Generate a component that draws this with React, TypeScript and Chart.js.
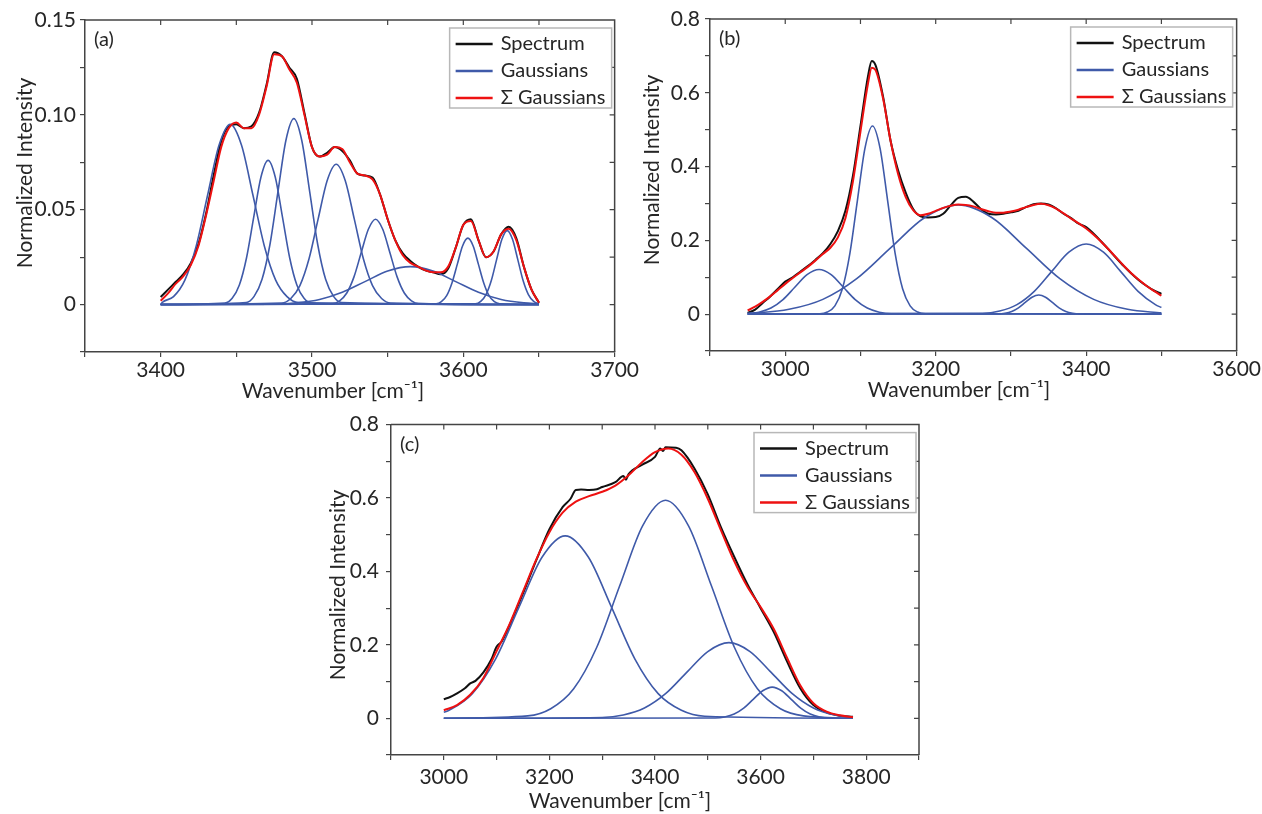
import React, { useEffect, useRef } from 'react';
import { Chart, registerables } from 'chart.js';

Chart.register(...registerables);

const FONT = "Lato, 'Noto Sans', 'DejaVu Sans', sans-serif";
const AXIS = '#444444';
const TEXT = '#262626';
const BLACK = '#111111';
const BLUE = '#3f5aa9';
const RED = '#ee1111';

type Pt = [number, number];

const legendLabels = ['Spectrum', 'Gaussians', 'Σ Gaussians'];
const xAxisTitle = 'Wavenumber [cm⁻¹]';
const yAxisTitle = 'Normalized Intensity';

// ---------------- panel (a) ----------------
const xA = [3400, 3405, 3410, 3415, 3420, 3425, 3430, 3435, 3440, 3445, 3450, 3455, 3460, 3465, 3470, 3475, 3480, 3485, 3490, 3495, 3500, 3505, 3510, 3515, 3520, 3525, 3530, 3535, 3540, 3545, 3550, 3555, 3560, 3565, 3570, 3575, 3580, 3585, 3590, 3595, 3600, 3605, 3610, 3615, 3620, 3625, 3630, 3635, 3640, 3645, 3650];
const spectrumA = [0.004, 0.008, 0.012, 0.016, 0.022, 0.032, 0.048, 0.068, 0.086, 0.094, 0.095, 0.093, 0.094, 0.101, 0.116, 0.133, 0.131, 0.125, 0.119, 0.101, 0.083, 0.078, 0.080, 0.083, 0.081, 0.076, 0.069, 0.068, 0.067, 0.058, 0.045, 0.034, 0.027, 0.023, 0.020, 0.018, 0.017, 0.016, 0.019, 0.030, 0.042, 0.045, 0.034, 0.025, 0.028, 0.037, 0.041, 0.035, 0.020, 0.008, 0.001];
const sumA = [0.002, 0.006, 0.011, 0.015, 0.021, 0.031, 0.047, 0.065, 0.083, 0.093, 0.096, 0.093, 0.093, 0.100, 0.115, 0.132, 0.131, 0.124, 0.117, 0.100, 0.083, 0.078, 0.079, 0.083, 0.082, 0.075, 0.069, 0.068, 0.066, 0.058, 0.045, 0.034, 0.026, 0.022, 0.020, 0.018, 0.017, 0.017, 0.020, 0.030, 0.042, 0.044, 0.034, 0.025, 0.028, 0.037, 0.040, 0.034, 0.020, 0.008, 0.001];
const gaussA1: Pt[] = [[3400, 0], [3401, 0.0011], [3408.5, 0.0042], [3416, 0.0129], [3423.5, 0.0309], [3431, 0.0576], [3438.5, 0.0838], [3446, 0.095], [3453.5, 0.0838], [3461, 0.0576], [3468.5, 0.0309], [3476, 0.0129], [3483.5, 0.0042], [3491, 0.0011], [3650, 0]];
const gaussA2: Pt[] = [[3400, 0], [3442.5, 0.0008], [3447.25, 0.0033], [3452, 0.0103], [3456.75, 0.0247], [3461.5, 0.0461], [3466.25, 0.0671], [3471, 0.076], [3475.75, 0.0671], [3480.5, 0.0461], [3485.25, 0.0247], [3490, 0.0103], [3494.75, 0.0033], [3499.5, 0.0008], [3650, 0]];
const gaussA3: Pt[] = [[3400, 0], [3456.5, 0.0011], [3461.75, 0.0043], [3467, 0.0133], [3472.25, 0.0318], [3477.5, 0.0594], [3482.75, 0.0865], [3488, 0.098], [3493.25, 0.0865], [3498.5, 0.0594], [3503.75, 0.0318], [3509, 0.0133], [3514.25, 0.0043], [3519.5, 0.0011], [3650, 0]];
const gaussA4: Pt[] = [[3400, 0], [3480, 0.0008], [3486, 0.0032], [3492, 0.0100], [3498, 0.0240], [3504, 0.0449], [3510, 0.0653], [3516, 0.074], [3522, 0.0653], [3528, 0.0449], [3534, 0.0240], [3540, 0.0100], [3546, 0.0032], [3552, 0.0008], [3650, 0]];
const gaussA5: Pt[] = [[3400, 0], [3513.5, 0.0005], [3518.25, 0.0020], [3523, 0.0061], [3527.75, 0.0146], [3532.5, 0.0273], [3537.25, 0.0397], [3542, 0.045], [3546.75, 0.0397], [3551.5, 0.0273], [3556.25, 0.0146], [3561, 0.0061], [3565.75, 0.0020], [3570.5, 0.0005], [3650, 0]];
const gaussA6: Pt[] = [[3400, 0], [3475, 0.0002], [3490, 0.0009], [3505, 0.0027], [3520, 0.0065], [3535, 0.0121], [3550, 0.0177], [3565, 0.020], [3580, 0.0177], [3595, 0.0121], [3610, 0.0065], [3625, 0.0027], [3640, 0.0009], [3650, 0.0004]];
const gaussA7: Pt[] = [[3400, 0], [3582, 0.0004], [3585.5, 0.0015], [3589, 0.0047], [3592.5, 0.0114], [3596, 0.0212], [3599.5, 0.0309], [3603, 0.035], [3606.5, 0.0309], [3610, 0.0212], [3613.5, 0.0114], [3617, 0.0047], [3620.5, 0.0015], [3624, 0.0004], [3650, 0]];
const gaussA8: Pt[] = [[3400, 0], [3608, 0.0004], [3611.5, 0.0017], [3615, 0.0053], [3618.5, 0.0127], [3622, 0.0237], [3625.5, 0.0344], [3629, 0.039], [3632.5, 0.0344], [3636, 0.0237], [3639.5, 0.0127], [3643, 0.0053], [3646.5, 0.0017], [3650, 0.0004]];

// ---------------- panel (b) ----------------
const xB = [2950, 2960, 2970, 2980, 2990, 3000, 3010, 3020, 3030, 3040, 3050, 3060, 3070, 3080, 3090, 3100, 3110, 3115, 3120, 3130, 3140, 3150, 3160, 3170, 3180, 3190, 3200, 3210, 3220, 3230, 3240, 3250, 3260, 3270, 3280, 3290, 3300, 3310, 3320, 3330, 3340, 3350, 3360, 3370, 3380, 3390, 3400, 3410, 3420, 3430, 3440, 3450, 3460, 3470, 3480, 3490, 3500];
const spectrumB = [0.003, 0.012, 0.030, 0.048, 0.068, 0.088, 0.100, 0.115, 0.130, 0.147, 0.165, 0.190, 0.225, 0.280, 0.375, 0.510, 0.645, 0.686, 0.675, 0.590, 0.470, 0.390, 0.330, 0.285, 0.265, 0.262, 0.263, 0.272, 0.295, 0.315, 0.318, 0.305, 0.285, 0.272, 0.270, 0.272, 0.276, 0.280, 0.290, 0.298, 0.300, 0.297, 0.287, 0.272, 0.260, 0.245, 0.236, 0.218, 0.197, 0.175, 0.152, 0.130, 0.110, 0.092, 0.077, 0.064, 0.055];
const sumB = [0.010, 0.020, 0.033, 0.048, 0.065, 0.082, 0.098, 0.113, 0.128, 0.145, 0.163, 0.180, 0.208, 0.260, 0.360, 0.495, 0.625, 0.668, 0.662, 0.585, 0.470, 0.380, 0.318, 0.282, 0.268, 0.272, 0.280, 0.288, 0.294, 0.297, 0.296, 0.292, 0.285, 0.279, 0.275, 0.275, 0.278, 0.283, 0.290, 0.296, 0.299, 0.295, 0.286, 0.273, 0.259, 0.246, 0.232, 0.215, 0.196, 0.175, 0.153, 0.131, 0.111, 0.093, 0.077, 0.063, 0.050];
const gaussB1: Pt[] = [[2950, 0.0015], [2965, 0.0053], [2981, 0.0164], [2997, 0.0393], [3013, 0.0734], [3029, 0.1068], [3045, 0.121], [3061, 0.1068], [3077, 0.0734], [3093, 0.0393], [3109, 0.0164], [3125, 0.0053], [3141, 0.0013], [3500, 0]];
const gaussB2: Pt[] = [[2950, 0], [3046, 0.0011], [3056, 0.0057], [3066, 0.0224], [3076, 0.0690], [3086, 0.1656], [3096, 0.3093], [3106, 0.4501], [3116, 0.51], [3126, 0.4501], [3136, 0.3093], [3146, 0.1656], [3156, 0.0690], [3166, 0.0224], [3176, 0.0057], [3186, 0.0011], [3500, 0]];
const gaussB3: Pt[] = [[2950, 0.0023], [2960, 0.0033], [3005, 0.0130], [3050, 0.0400], [3095, 0.0961], [3140, 0.1795], [3185, 0.2612], [3230, 0.296], [3275, 0.2612], [3320, 0.1795], [3365, 0.0961], [3410, 0.0400], [3455, 0.0130], [3500, 0.0033]];
const gaussB4: Pt[] = [[2950, 0], [3283, 0.0006], [3292, 0.0023], [3301, 0.0070], [3310, 0.0169], [3319, 0.0315], [3328, 0.0459], [3337, 0.052], [3346, 0.0459], [3355, 0.0315], [3364, 0.0169], [3373, 0.0070], [3382, 0.0023], [3391, 0.0006], [3500, 0]];
const gaussB5: Pt[] = [[2950, 0], [3262, 0.0021], [3285, 0.0083], [3308, 0.0257], [3331, 0.0617], [3354, 0.1152], [3377, 0.1677], [3400, 0.19], [3423, 0.1677], [3446, 0.1152], [3469, 0.0617], [3492, 0.0257], [3500, 0.0179]];

// ---------------- panel (c) ----------------
const xSpecC = [3000, 3012, 3025, 3040, 3050, 3060, 3075, 3090, 3100, 3110, 3125, 3150, 3175, 3200, 3225, 3240, 3250, 3260, 3275, 3290, 3300, 3325, 3340, 3345, 3350, 3375, 3400, 3410, 3415, 3420, 3440, 3450, 3475, 3500, 3525, 3550, 3575, 3600, 3625, 3650, 3675, 3700, 3725, 3750, 3775];
const spectrumC = [0.052, 0.058, 0.068, 0.082, 0.095, 0.102, 0.125, 0.160, 0.195, 0.210, 0.255, 0.340, 0.430, 0.515, 0.575, 0.598, 0.622, 0.623, 0.622, 0.624, 0.630, 0.643, 0.660, 0.650, 0.665, 0.690, 0.712, 0.735, 0.728, 0.738, 0.737, 0.730, 0.680, 0.610, 0.520, 0.440, 0.365, 0.300, 0.235, 0.155, 0.082, 0.036, 0.016, 0.007, 0.004];
const xSumC = [3000, 3025, 3050, 3075, 3100, 3125, 3150, 3175, 3200, 3225, 3250, 3275, 3300, 3325, 3350, 3375, 3400, 3425, 3450, 3475, 3500, 3525, 3550, 3575, 3600, 3625, 3650, 3675, 3700, 3725, 3750, 3775];
const sumC = [0.022, 0.036, 0.064, 0.110, 0.183, 0.258, 0.345, 0.432, 0.507, 0.560, 0.590, 0.605, 0.617, 0.634, 0.662, 0.697, 0.725, 0.735, 0.718, 0.670, 0.598, 0.512, 0.428, 0.358, 0.303, 0.243, 0.165, 0.090, 0.041, 0.018, 0.008, 0.003];
const gaussC1: Pt[] = [[3000, 0.0163], [3010, 0.0218], [3054, 0.0672], [3098, 0.1614], [3142, 0.3014], [3186, 0.4386], [3230, 0.497], [3274, 0.4386], [3318, 0.3014], [3362, 0.1614], [3406, 0.0672], [3450, 0.0218], [3494, 0.0055], [3775, 0]];
const gaussC2: Pt[] = [[3000, 0], [3159, 0.0066], [3202.5, 0.0261], [3246, 0.0804], [3289.5, 0.1929], [3333, 0.3603], [3376.5, 0.5242], [3420, 0.594], [3463.5, 0.5242], [3507, 0.3603], [3550.5, 0.1929], [3594, 0.0804], [3637.5, 0.0261], [3681, 0.0066], [3775, 0]];
const gaussC3: Pt[] = [[3000, 0], [3300, 0.0023], [3340, 0.0090], [3380, 0.0279], [3420, 0.0669], [3460, 0.1249], [3500, 0.1818], [3540, 0.206], [3580, 0.1818], [3620, 0.1249], [3660, 0.0669], [3700, 0.0279], [3740, 0.0090], [3775, 0.0028]];
const gaussC4: Pt[] = [[3000, 0], [3514, 0.0009], [3532, 0.0037], [3550, 0.0115], [3568, 0.0276], [3586, 0.0516], [3604, 0.0750], [3622, 0.085], [3640, 0.0750], [3658, 0.0516], [3676, 0.0276], [3694, 0.0115], [3712, 0.0037], [3730, 0.0009], [3775, 0]];

// ---------------- layout of the three panels ----------------
const panels = [
  {
    tag: '(a)', canvas: { left: 0, top: 0, w: 640, h: 410 }, area: { left: 85, right: 615, top: 20, bottom: 352 },
    xMin: 3350, xMax: 3700, xStep: 50, xEvery: 100, yMin: -0.025, yMax: 0.15, yStep: 0.025, yEvery: 0.05, yDec: 2,
    xPad: 1, yPad: 4, xTitleAt: [333, 398], yTitleAt: [25, 173], legendGap: 3, legendTop: 8,
    specX: xA, specY: spectrumA, sumX: xA, sumY: sumA,
    gauss: [gaussA1, gaussA2, gaussA3, gaussA4, gaussA5, gaussA6, gaussA7, gaussA8],
  },
  {
    tag: '(b)', canvas: { left: 630, top: 0, w: 632, h: 410 }, area: { left: 80, right: 608, top: 19, bottom: 351 },
    xMin: 2900, xMax: 3600, xStep: 100, xEvery: 200, yMin: -0.1, yMax: 0.8, yStep: 0.1, yEvery: 0.2, yDec: 1,
    xPad: 1, yPad: 5, xTitleAt: [329, 397], yTitleAt: [22, 170], legendGap: 4, legendTop: 8,
    specX: xB, specY: spectrumB, sumX: xB, sumY: sumB,
    gauss: [gaussB1, gaussB2, gaussB3, gaussB4, gaussB5],
  },
  {
    tag: '(c)', canvas: { left: 310, top: 405, w: 640, h: 409 }, area: { left: 81, right: 609, top: 18, bottom: 350 },
    xMin: 2900, xMax: 3900, xStep: 100, xEvery: 200, yMin: -0.1, yMax: 0.8, yStep: 0.1, yEvery: 0.2, yDec: 1,
    xPad: 5, yPad: 7, xTitleAt: [310, 403], yTitleAt: [28, 180], legendGap: 3, legendTop: 8,
    specX: xSpecC, specY: spectrumC, sumX: xSumC, sumY: sumC,
    gauss: [gaussC1, gaussC2, gaussC3, gaussC4],
  },
];

function makeFramePlugin(p: any) {
  return {
    id: 'frame',
    afterDraw(chart: any) {
      const { ctx, chartArea: a, scales } = chart;
      const xs = scales.x;
      const ys = scales.y;
      ctx.save();
      ctx.strokeStyle = AXIS;
      ctx.lineWidth = 1.5;
      ctx.beginPath();
      ctx.moveTo(a.left, a.top);
      ctx.lineTo(a.right, a.top);
      ctx.lineTo(a.right, a.bottom);
      ctx.stroke();

      ctx.lineWidth = 1.2;
      ctx.beginPath();
      xs.ticks.forEach((t: any) => {
        const px = xs.getPixelForValue(t.value);
        if (px <= a.left + 1 || px >= a.right - 1) return;
        ctx.moveTo(px, a.top);
        ctx.lineTo(px, a.top + 5);
      });
      ys.ticks.forEach((t: any) => {
        const py = ys.getPixelForValue(t.value);
        if (py <= a.top + 1 || py >= a.bottom - 1) return;
        ctx.moveTo(a.right, py);
        ctx.lineTo(a.right - 5, py);
      });
      ctx.stroke();

      // panel tag
      ctx.fillStyle = TEXT;
      ctx.font = `20px ${FONT}`;
      ctx.textAlign = 'left';
      ctx.textBaseline = 'middle';
      ctx.fillText(p.tag, a.left + 9, a.top + 20);

      // axis titles
      ctx.font = `21px ${FONT}`;
      ctx.textAlign = 'center';
      ctx.textBaseline = 'alphabetic';
      ctx.fillText(xAxisTitle, p.xTitleAt[0], p.xTitleAt[1]);
      ctx.save();
      ctx.translate(p.yTitleAt[0], p.yTitleAt[1]);
      ctx.rotate(-Math.PI / 2);
      ctx.textBaseline = 'middle';
      ctx.fillText(yAxisTitle, 0, 0);
      ctx.restore();

      // legend
      const bw = 162;
      const bh = 80;
      const bx = a.right - p.legendGap - bw;
      const by = a.top + p.legendTop;
      ctx.fillStyle = '#ffffff';
      ctx.fillRect(bx, by, bw, bh);
      ctx.strokeStyle = '#b8b8b8';
      ctx.lineWidth = 1.5;
      ctx.strokeRect(bx, by, bw, bh);
      const colors = [BLACK, BLUE, RED];
      legendLabels.forEach((txt, i) => {
        const y = by + 16 + i * 27;
        ctx.strokeStyle = colors[i];
        ctx.lineWidth = 2.5;
        ctx.beginPath();
        ctx.moveTo(bx + 6, y);
        ctx.lineTo(bx + 43, y);
        ctx.stroke();
        ctx.fillStyle = TEXT;
        ctx.font = `20px ${FONT}`;
        ctx.textAlign = 'left';
        ctx.textBaseline = 'middle';
        ctx.fillText(txt, bx + 51, y);
      });
      ctx.restore();
    },
  };
}

function buildConfig(p: any): any {
  const toPts = (xs: number[], ys: number[]) => xs.map((x, i) => ({ x, y: ys[i] }));
  const base = { pointRadius: 0, fill: false, cubicInterpolationMode: 'monotone' };
  const datasets = [
    { ...base, label: 'Σ Gaussians', data: toPts(p.sumX, p.sumY), borderColor: RED, borderWidth: 2, order: 0 },
    ...p.gauss.map((g: Pt[], i: number) => ({
      ...base, label: `Gaussian ${i + 1}`, data: g.map(([x, y]) => ({ x, y })), borderColor: BLUE, borderWidth: 1.6, order: 1,
    })),
    { ...base, label: 'Spectrum', data: toPts(p.specX, p.specY), borderColor: BLACK, borderWidth: 2, order: 2 },
  ];
  const tickFont = { family: FONT, size: 21 };
  return {
    type: 'line',
    data: { datasets },
    options: {
      animation: false,
      responsive: false,
      events: [],
      layout: { padding: { left: 0, top: p.area.top, right: p.canvas.w - p.area.right, bottom: 0 } },
      plugins: { legend: { display: false }, tooltip: { enabled: false } },
      scales: {
        x: {
          type: 'linear',
          min: p.xMin,
          max: p.xMax,
          afterFit: (s: any) => { s.height = p.canvas.h - p.area.bottom; },
          ticks: {
            stepSize: p.xStep, autoSkip: false, maxRotation: 0, padding: p.xPad, color: TEXT, font: tickFont,
            callback: (v: number) => (Math.abs(v % p.xEvery) < 1e-6 ? String(v) : ''),
          },
          grid: { drawOnChartArea: false, drawTicks: true, tickLength: 5, color: AXIS, lineWidth: 1.2 },
          border: { display: true, color: AXIS, width: 1.5 },
        },
        y: {
          type: 'linear',
          min: p.yMin,
          max: p.yMax,
          afterFit: (s: any) => { s.width = p.area.left; },
          ticks: {
            stepSize: p.yStep, autoSkip: false, padding: p.yPad, color: TEXT, font: tickFont,
            callback: (v: number) => {
              const n = v / p.yEvery;
              if (v < -1e-9 || Math.abs(n - Math.round(n)) > 1e-6) return '';
              return Math.abs(v) < 1e-9 ? '0' : v.toFixed(p.yDec);
            },
          },
          grid: { drawOnChartArea: false, drawTicks: true, tickLength: 5, color: AXIS, lineWidth: 1.2 },
          border: { display: true, color: AXIS, width: 1.5 },
        },
      },
    },
    plugins: [makeFramePlugin(p)],
  };
}

function Panel({ p }: { p: any }) {
  const ref = useRef<HTMLCanvasElement | null>(null);
  useEffect(() => {
    if (!ref.current) return;
    const chart = new Chart(ref.current, buildConfig(p));
    return () => chart.destroy();
  }, [p]);
  return (
    <canvas
      ref={ref}
      width={p.canvas.w}
      height={p.canvas.h}
      style={{ position: 'absolute', left: p.canvas.left, top: p.canvas.top, width: p.canvas.w, height: p.canvas.h }}
    />
  );
}

export default function App() {
  return (
    <div style={{ position: 'fixed', left: 0, top: 0, width: 1262, height: 814, overflow: 'hidden', background: '#ffffff' }}>
      {panels.map((p) => (
        <Panel key={p.tag} p={p} />
      ))}
    </div>
  );
}
